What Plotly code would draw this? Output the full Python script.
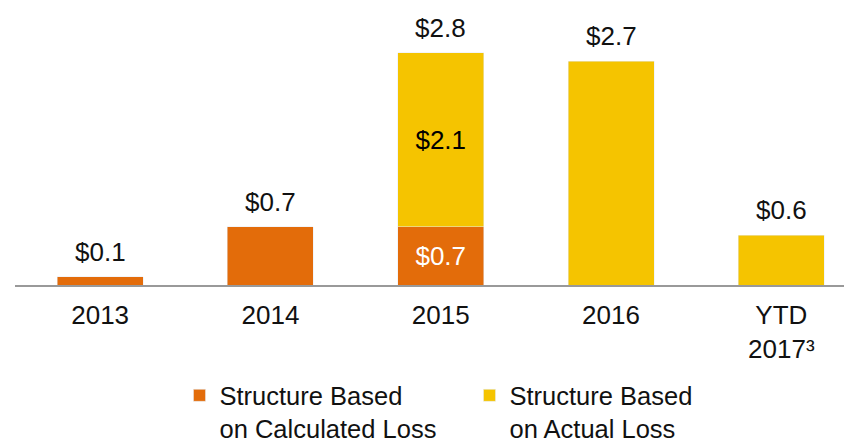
import plotly.graph_objects as go

categories = ["2013", "2014", "2015", "2016", "YTD<br>2017³"]
calculated_loss = [0.1, 0.7, 0.7, 0, 0]
actual_loss = [0, 0, 2.1, 2.7, 0.6]
series_names = ["Structure Based<br>on Calculated Loss", "Structure Based<br>on Actual Loss"]

ORANGE = "#E36C0A"
YELLOW = "#F5C400"
FONT = "Liberation Sans, Arial, sans-serif"

totals = [round(a + b, 1) for a, b in zip(calculated_loss, actual_loss)]

# inside labels only where both segments exist
calc_text = [f"${v:.1f}" if (v > 0 and a > 0) else "" for v, a in zip(calculated_loss, actual_loss)]
act_text = [f"${v:.1f}" if (v > 0 and c > 0) else "" for v, c in zip(actual_loss, calculated_loss)]

fig = go.Figure()
fig.add_trace(go.Bar(
    x=categories, y=[v if v > 0 else None for v in calculated_loss], name=series_names[0],
    marker_color=ORANGE, width=0.505,
    text=calc_text, textposition="inside", insidetextanchor="middle",
    textfont=dict(color="white", size=26, family=FONT),
    hoverinfo="skip",
))
fig.add_trace(go.Bar(
    x=categories, y=[v if v > 0 else None for v in actual_loss], name=series_names[1],
    marker_color=YELLOW, width=0.505,
    text=act_text, textposition="inside", insidetextanchor="middle",
    textfont=dict(color="black", size=26, family=FONT),
    hoverinfo="skip",
))

# total labels above each bar (x as category index)
for i, tot in enumerate(totals):
    fig.add_annotation(x=i, y=tot, text=f"${tot:.1f}", showarrow=False,
                       xref="x", yref="y",
                       yanchor="bottom", yshift=8,
                       font=dict(size=26, color="#111", family=FONT))

fig.update_layout(
    barmode="stack",
    width=844, height=434,
    margin=dict(l=7, r=0, t=0, b=157, autoexpand=False),
    plot_bgcolor="white", paper_bgcolor="white",
    font=dict(family=FONT, size=26, color="#111"),
    showlegend=True,
    legend=dict(orientation="h", x=0.543, xanchor="center", y=-0.315, yanchor="top",
                font=dict(size=25.5, family=FONT, color="#111"),
                valign="top", entrywidth=245, itemwidth=30,
                traceorder="normal"),
    xaxis=dict(type="category", range=[-0.5, 4.415], showline=True, linecolor="#999999", linewidth=2,
               ticks="", showgrid=False, tickfont=dict(size=26, family=FONT, color="#111"),
               ticklabelstandoff=6, fixedrange=True),
    yaxis=dict(range=[0, 3.34], visible=False, showgrid=False, fixedrange=True),
)

fig.write_html("out.html")
